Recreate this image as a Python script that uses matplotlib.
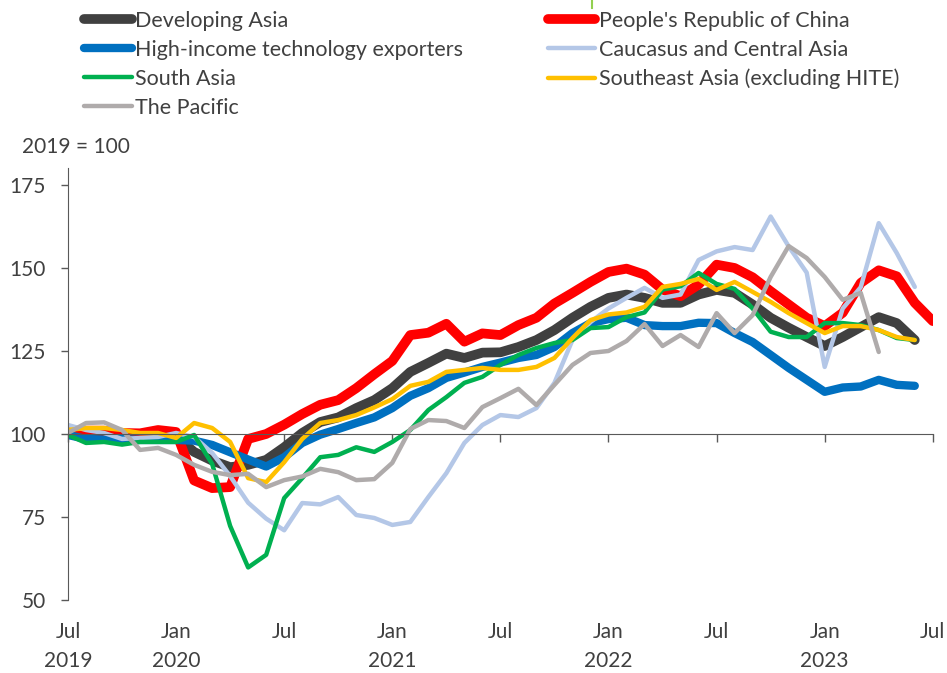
import matplotlib.pyplot as plt
import numpy as np
from matplotlib.transforms import blended_transform_factory
from matplotlib.lines import Line2D

nan = np.nan

# monthly index, 2019 = 100, Jul 2019 .. Jul 2023
months = np.arange(49)

developing_asia = [100, 100, 99.6, 99.2, 99, 99.3, 99.2, 94.6, 92, 90, 90.7, 92.2, 96, 100.3,
                   103.6, 105, 107.8, 110.2, 113.8, 118.7, 121.4, 124.2, 122.9, 124.5, 124.6,
                   126.2, 128.3, 131.3, 135, 138.3, 141, 142, 141, 139.5, 139.5, 142, 143.4,
                   142.5, 139, 135, 132, 129.2, 126.5, 129.2, 132.2, 135.2, 133.4, 128.3, nan]
prc = [100.5, 101, 101, 100.3, 100.2, 101.2, 100.6, 86, 83.7, 84, 98.5, 100, 102.8, 106,
       108.8, 110.2, 113.8, 118, 122, 129.8, 130.5, 133.2, 127.8, 130.3, 129.8, 132.8, 135,
       139.3, 142.5, 145.8, 148.8, 149.8, 148, 143.5, 141.5, 145, 151, 150, 147.2, 143, 139,
       135, 132.5, 136.5, 145.5, 149.3, 147.5, 139.5, 134]
hite = [99.7, 98.5, 98.3, 98.5, 98.2, 98.2, 98.2, 98, 96.7, 94.5, 92.3, 90.2, 93, 97.3, 99.8,
        101.5, 103.3, 105, 107.8, 111.5, 113.8, 116.9, 118.5, 120.2, 121.5, 122.9, 123.8,
        126.2, 130.4, 133.4, 134.6, 135, 132.8, 132.5, 132.5, 133.5, 133.4, 130.4, 127.7,
        123.8, 119.9, 116.3, 112.7, 114, 114.3, 116.3, 114.8, 114.5, nan]
cca = [102.7, 101.2, 100.3, 98.5, 98.8, 99.1, 100.3, 99.1, 94.3, 87.3, 79.3, 74.5, 71, 79.2,
       78.8, 81, 75.6, 74.7, 72.6, 73.5, 81, 88.2, 97.3, 102.7, 105.7, 105.1, 107.8, 115.4,
       128.3, 133.7, 137.8, 141, 144, 141, 142, 152.4, 155, 156.3, 155.4, 165.5, 156.5,
       148.6, 120.2, 137.8, 144.2, 163.5, 154.5, 144.3, nan]
south_asia = [99.7, 97.3, 97.6, 96.8, 97.6, 97.6, 97.6, 99.7, 91, 72.3, 59.8, 63.6, 80.7, 86.7,
              93, 93.7, 96, 94.6, 97.6, 101.2, 107.2, 111.1, 115.4, 117.2, 120.8, 123.8, 125.9,
              127.4, 128.3, 131.9, 132.2, 135.2, 136.6, 143.5, 144.5, 148.5, 145.2, 143.7,
              137.8, 130.8, 129.2, 129.2, 133.4, 133.4, 132.8, 131.3, 128.9, 128.3, nan]
southeast_asia = [101.2, 101.8, 101.8, 101.2, 100.3, 100.3, 98.8, 103.3, 101.8, 97.6, 86.7, 85.5,
                  91.5, 98.5, 103.3, 104.2, 105.7, 108, 110.5, 114.5, 115.7, 118.7, 119.3, 119.9,
                  119.3, 119.3, 120.2, 122.9, 128.9, 134.3, 136, 136.6, 138.3, 144.3, 145.2,
                  146.7, 143.4, 145.8, 142.8, 139.8, 136.4, 133.4, 130.4, 132.5, 132.5, 131.3,
                  129.2, 128.3, nan]
pacific = [100.3, 103.3, 103.5, 101.2, 95.2, 95.8, 93.7, 90.7, 88.6, 87.6, 88, 84, 86.1, 87.2,
           89.5, 88.5, 86.1, 86.4, 91.3, 101.5, 104.2, 103.9, 101.8, 108.1, 110.8, 113.6, 108.7,
           114.8, 120.8, 124.4, 125, 128, 133.1, 126.5, 129.8, 126.2, 136.4, 130.4, 135.8,
           147.3, 156.6, 153, 147.3, 140.4, 142.5, 124.7, nan, nan, nan]

series = [
    ("Developing Asia", developing_asia, "#404040", 7.0),
    ("People's Republic of China", prc, "#ff0000", 7.0),
    ("High-income technology exporters", hite, "#0070c0", 6.0),
    ("Caucasus and Central Asia", cca, "#b4c7e7", 3.2),
    ("South Asia", south_asia, "#00b050", 3.2),
    ("Southeast Asia (excluding HITE)", southeast_asia, "#ffc000", 3.2),
    ("The Pacific", pacific, "#afabab", 3.2),
]

tick_pos = [0, 6, 12, 18, 24, 30, 36, 42, 48]
tick_month = ["Jul", "Jan", "Jul", "Jan", "Jul", "Jan", "Jul", "Jan", "Jul"]
tick_year = ["2019", "2020", "", "2021", "", "2022", "", "2023", ""]

plt.rcParams['font.family'] = ['Lato', 'DejaVu Sans']
txt = '#404040'
fs = 15

fig = plt.figure(figsize=(9.47, 6.73), dpi=100)
ax = fig.add_axes([0.0718, 0.1085, 0.9132, 0.6413])

lines = []
for name, vals, col, lw in series:
    l, = ax.plot(months, vals, color=col, lw=lw, label=name, solid_capstyle='round',
                 solid_joinstyle='round')
    lines.append(l)

ax.set_xlim(0, 48)
ax.set_ylim(50, 180)
ax.set_yticks([50, 75, 100, 125, 150, 175])
ax.tick_params(axis='y', direction='out', length=5, width=1, colors='#595959',
               labelsize=fs, labelcolor=txt, pad=11)

ax.spines['top'].set_visible(False)
ax.spines['right'].set_visible(False)
ax.spines['left'].set_color('#595959')
ax.spines['bottom'].set_position(('data', 100))
ax.spines['bottom'].set_color('#595959')
ax.set_xticks(tick_pos)
ax.tick_params(axis='x', direction='out', length=6, width=1, colors='#595959',
               labelbottom=False)

tr = blended_transform_factory(ax.transData, ax.transAxes)
for p, m, y in zip(tick_pos, tick_month, tick_year):
    ax.text(p, -0.075, m, transform=tr, ha='center', va='center', fontsize=fs, color=txt)
    if y:
        ax.text(p, -0.142, y, transform=tr, ha='center', va='center', fontsize=fs, color=txt)

fig.text(0.023, 0.782, "2019 = 100", fontsize=fs, color=txt, va='center')

# legend is filled row by row in the reference
order = [0, 2, 4, 6, 1, 3, 5]
leg = fig.legend([lines[i] for i in order], [series[i][0] for i in order],
                 loc='upper left', bbox_to_anchor=(0.08, 0.997), ncol=2, frameon=False,
                 fontsize=15.5, handlelength=2.2, handletextpad=0.15, columnspacing=3.95,
                 labelspacing=0.42, borderaxespad=0)
for t in leg.get_texts():
    t.set_color(txt)

# small green mark at the top edge
fig.add_artist(Line2D([592 / 947, 592 / 947], [1.0, 0.988], color='#92d050', lw=1.5))

fig.savefig('out.png', dpi=100)
